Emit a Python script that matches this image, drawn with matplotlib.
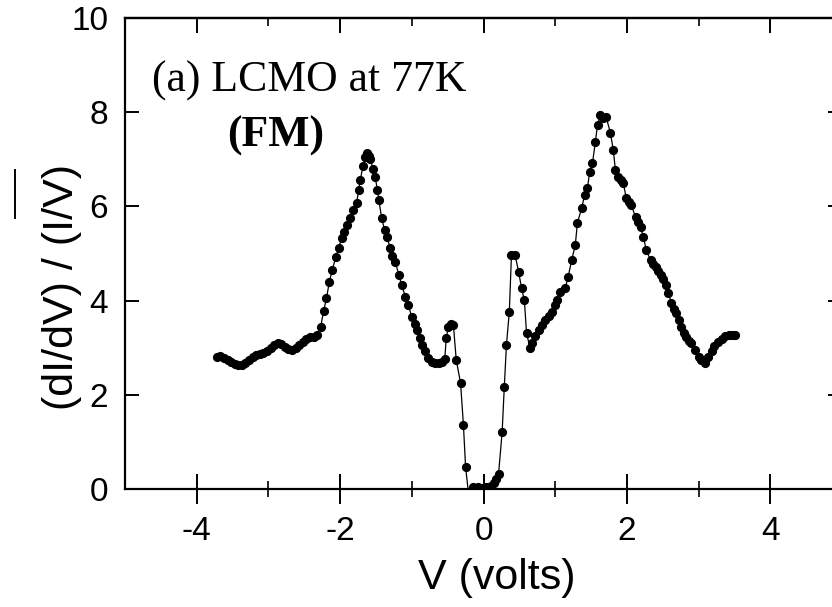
import matplotlib
matplotlib.use("Agg")
import matplotlib.pyplot as plt
from matplotlib.lines import Line2D

# Data
V = [-3.72, -3.67, -3.62, -3.57, -3.52, -3.47, -3.42, -3.37, -3.32, -3.27,
     -3.22, -3.17, -3.12, -3.07, -3.02, -2.97, -2.92, -2.87, -2.82, -2.77,
     -2.72, -2.67, -2.62, -2.57, -2.52, -2.47, -2.42, -2.37, -2.32, -2.27,
     -2.23, -2.19, -2.15, -2.11, -2.06, -2.02, -1.98, -1.95, -1.91, -1.86,
     -1.82, -1.77, -1.74, -1.72, -1.68, -1.65, -1.63, -1.60, -1.58, -1.54,
     -1.51, -1.48, -1.46, -1.42, -1.38, -1.35, -1.30, -1.27, -1.23, -1.18,
     -1.14, -1.09, -1.05, -1.00, -0.96, -0.93, -0.89, -0.86, -0.82, -0.77,
     -0.72, -0.67, -0.62, -0.58, -0.54, -0.52, -0.49, -0.45, -0.42, -0.38,
     -0.32, -0.28, -0.25, -0.21, -0.14, -0.08, -0.02, 0.04, 0.10, 0.14,
     0.18, 0.21, 0.26, 0.29, 0.32, 0.36, 0.39, 0.44, 0.49, 0.53,
     0.57, 0.60, 0.65, 0.68, 0.72, 0.77, 0.82, 0.86, 0.91, 0.95,
     1.00, 1.02, 1.07, 1.14, 1.18, 1.23, 1.28, 1.31, 1.37, 1.41,
     1.45, 1.48, 1.52, 1.56, 1.59, 1.63, 1.67, 1.71, 1.77, 1.81,
     1.84, 1.88, 1.92, 1.95, 1.99, 2.03, 2.06, 2.12, 2.16, 2.19,
     2.23, 2.27, 2.33, 2.37, 2.40, 2.44, 2.47, 2.50, 2.54, 2.58,
     2.62, 2.66, 2.69, 2.73, 2.76, 2.80, 2.83, 2.87, 2.90, 2.95,
     3.00, 3.04, 3.09, 3.13, 3.18, 3.22, 3.27, 3.32, 3.37, 3.42,
     3.47, 3.51]
G = [2.80, 2.82, 2.78, 2.74, 2.70, 2.66, 2.64, 2.63, 2.68, 2.74,
     2.80, 2.84, 2.87, 2.89, 2.94, 3.00, 3.06, 3.10, 3.08, 3.02,
     2.97, 2.95, 3.00, 3.06, 3.12, 3.18, 3.22, 3.23, 3.26, 3.45,
     3.78, 4.05, 4.40, 4.65, 4.92, 5.12, 5.32, 5.46, 5.60, 5.75,
     5.92, 6.07, 6.35, 6.56, 6.85, 7.05, 7.13, 7.08, 7.00, 6.80,
     6.62, 6.35, 6.14, 5.75, 5.50, 5.35, 5.12, 4.95, 4.82, 4.54,
     4.33, 4.08, 3.91, 3.65, 3.50, 3.38, 3.20, 3.06, 2.92, 2.78,
     2.70, 2.67, 2.68, 2.70, 2.76, 3.20, 3.45, 3.50, 3.48, 2.74,
     2.25, 1.36, 0.47, -0.08, 0.04, 0.04, 0.03, 0.04, 0.06, 0.12,
     0.22, 0.32, 1.21, 2.17, 3.06, 3.76, 4.97, 4.97, 4.61, 4.27,
     4.01, 3.31, 2.99, 3.10, 3.25, 3.38, 3.48, 3.59, 3.68, 3.76,
     3.90, 4.01, 4.18, 4.27, 4.50, 4.86, 5.18, 5.65, 5.97, 6.24,
     6.39, 6.73, 6.92, 7.37, 7.73, 7.94, 7.88, 7.90, 7.56, 7.20,
     6.77, 6.62, 6.55, 6.50, 6.18, 6.10, 6.03, 5.78, 5.66, 5.56,
     5.35, 5.07, 4.86, 4.78, 4.71, 4.62, 4.54, 4.45, 4.33, 4.16,
     3.95, 3.83, 3.74, 3.58, 3.44, 3.32, 3.23, 3.15, 3.10, 2.95,
     2.80, 2.74, 2.68, 2.80, 2.92, 3.03, 3.12, 3.18, 3.24, 3.26,
     3.27, 3.27]

x_major = [-4, -2, 0, 2, 4]
x_minor = [-3, -1, 1, 3]
y_ticks = [0, 2, 4, 6, 8, 10]

sans = ["Liberation Sans", "DejaVu Sans"]
serif = ["Liberation Serif", "DejaVu Serif"]

fig = plt.figure(figsize=(8.32, 6.07), dpi=100)
ax = fig.add_axes([125/832, 118/607, 717/832, 471/607])

ax.plot(V, G, color="black", lw=0.9, marker="o", ms=5.6, mfc="black", mec="black")

ax.set_xlim(-5, 5)
ax.set_ylim(0, 10)
for s in ax.spines.values():
    s.set_linewidth(1.6)

ax.set_xticks(x_major)
ax.set_xticks(x_minor, minor=True)
ax.set_xticklabels([str(v) for v in x_major], fontfamily=sans, fontsize=24)
ax.set_yticks(y_ticks)
ax.set_yticklabels([str(v) for v in y_ticks], fontfamily=sans, fontsize=24)

ax.tick_params(axis="x", which="major", direction="inout", length=21, width=1.4,
               top=False, bottom=True, pad=9)
ax.tick_params(axis="x", which="minor", direction="inout", length=12, width=1.2,
               top=False, bottom=True)
ax.tick_params(axis="y", which="major", direction="in", length=10, width=1.4,
               left=True, right=True, pad=12)

top = ax.secondary_xaxis("top")
top.set_xticks(x_major)
top.set_xticks(x_minor, minor=True)
top.tick_params(axis="x", which="major", direction="in", length=11, width=1.4,
                labeltop=False)
top.tick_params(axis="x", which="minor", direction="in", length=6, width=1.2)
top.spines["top"].set_linewidth(1.6)

fig.text(152/832, (607-92)/607, "(a) LCMO at 77K", family=serif, fontsize=31.5,
         ha="left", va="baseline")
fig.text(276/832, (607-147)/607, "(FM)", family=serif, fontsize=31.5,
         fontweight="bold", ha="center", va="baseline")

fig.text(497/832, (607-578)/607, "V (volts)", family=sans, fontsize=31,
         ha="center", va="center")
fig.text(62/832, (607-287)/607, "(dI/dV) / (I/V)", family=sans, fontsize=31,
         rotation=90, ha="center", va="center")
fig.add_artist(Line2D([15/832, 15/832], [(607-170)/607, (607-218)/607],
                      transform=fig.transFigure, color="black", lw=1.4))

fig.savefig("out.png", dpi=100)
